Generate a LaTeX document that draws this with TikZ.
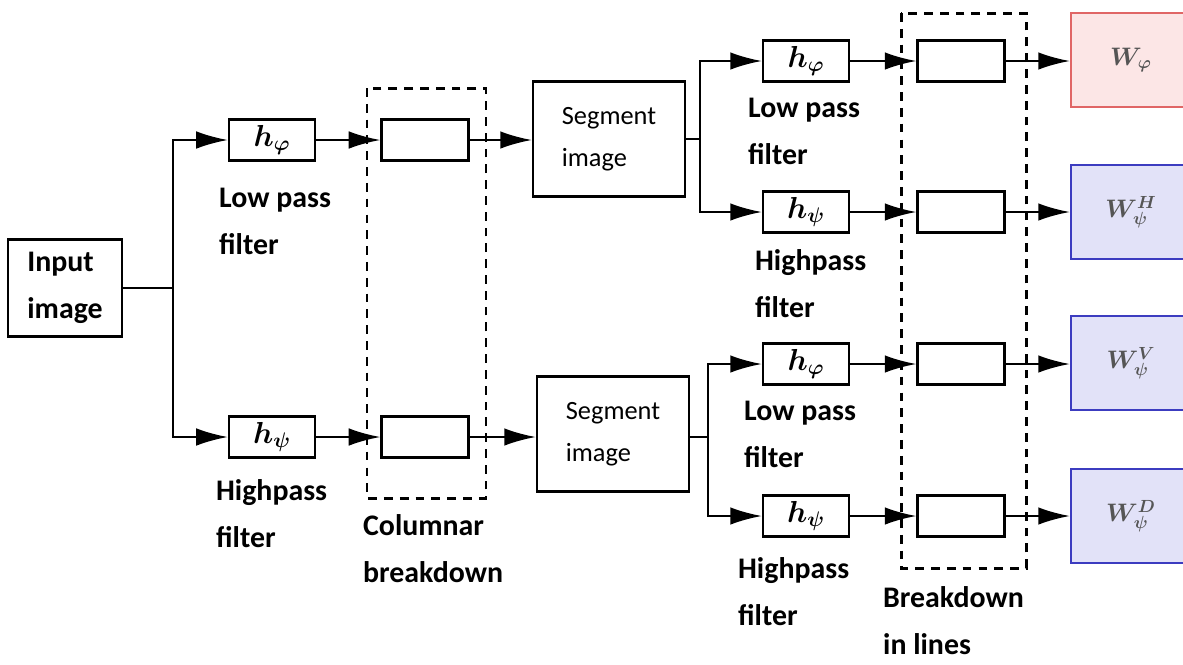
\documentclass[tikz,border=0pt]{standalone}
\usepackage{fontspec}
\setmainfont{Carlito}
\usepackage{amsmath,bm}
\usetikzlibrary{arrows.meta, positioning}
\definecolor{outred}{HTML}{E06666}
\definecolor{outredfill}{HTML}{FCE6E6}
\definecolor{outblue}{HTML}{3C3CC0}
\definecolor{outbluefill}{HTML}{E2E2F8}
\definecolor{wtext}{HTML}{555555}

\begin{document}
\begin{tikzpicture}[x=0.02cm, y=-0.02cm, line width=1.3pt,
    hf/.style={draw, rectangle, minimum width=1.72cm, minimum height=0.82cm, inner sep=0, font=\fontsize{17}{20}\selectfont},
    bk/.style={draw, rectangle, minimum width=1.74cm, minimum height=0.82cm, inner sep=0},
    sg/.style={draw, rectangle, minimum width=3.04cm, minimum height=2.3cm, inner sep=0, align=left, font=\fontsize{15}{24}\selectfont},
    lb/.style={anchor=north west, inner sep=0, align=left, font=\fontsize{17}{27}\selectfont\bfseries},
    ot/.style={draw, rectangle, minimum width=2.4cm, minimum height=1.88cm, inner sep=0, font=\fontsize{14}{16}\selectfont},
    bd/.style={line width=1.7pt, dash pattern=on 5pt off 4pt},
    >={Latex[length=18pt,width=10pt]}]
\useasboundingbox (0,0) rectangle (1183,664);
\clip (0,0) rectangle (1183,664);
% dashed groups
\draw[bd] (367,88) rectangle (486,498);
\draw[bd] (901,13) rectangle (1026,568);
% first stage
\node[draw, rectangle, minimum width=2.28cm, minimum height=1.94cm, inner sep=0, align=left, font=\fontsize{17}{27}\selectfont\bfseries] (in) at (65,288) {Input\\image};
\coordinate (j1) at (173,288);
\node[hf] (hp1) at (272,140) {$\bm{h_\varphi}$};
\node[hf] (hs1) at (272,437) {$\bm{h_\psi}$};
\node[bk] (cb1) at (425,140) {};
\node[bk] (cb2) at (425,437) {};
\node[sg] (sg1) at (609,139) {Segment\\image};
\node[sg] (sg2) at (613,434) {Segment\\image};
% second stage
\coordinate (j2) at (700,139);
\coordinate (j3) at (708,437);
\node[hf] (hp2) at (806,61) {$\bm{h_\varphi}$};
\node[hf] (hs2) at (806,212) {$\bm{h_\psi}$};
\node[hf] (hp3) at (806,364) {$\bm{h_\varphi}$};
\node[hf] (hs3) at (806,516) {$\bm{h_\psi}$};
\node[bk] (lb1) at (961,61) {};
\node[bk] (lb2) at (961,212) {};
\node[bk] (lb3) at (961,364) {};
\node[bk] (lb4) at (961,516) {};
% outputs
\node[ot, draw=outred, fill=outredfill] (out1) at (1131,60) {\textcolor{wtext}{$\bm{W_{\varphi}}$}};
\node[ot, draw=outblue, fill=outbluefill] (out2) at (1131,212) {\textcolor{wtext}{$\bm{W^{H}_{\psi}}$}};
\node[ot, draw=outblue, fill=outbluefill] (out3) at (1131,363) {\textcolor{wtext}{$\bm{W^{V}_{\psi}}$}};
\node[ot, draw=outblue, fill=outbluefill] (out4) at (1131,516) {\textcolor{wtext}{$\bm{W^{D}_{\psi}}$}};
% connectors
\draw (in) -- (j1);
\draw[->] (j1) |- (hp1);
\draw[->] (j1) |- (hs1);
\draw[->] (hp1) -- (cb1);
\draw[->] (hs1) -- (cb2);
\draw[->] (cb1) -- (cb1 -| sg1.west);
\draw[->] (cb2) -- (cb2 -| sg2.west);
\draw (sg1) -- (j2);
\draw (sg2.east |- j3) -- (j3);
\draw[->] (j2) |- (hp2);
\draw[->] (j2) |- (hs2);
\draw[->] (j3) |- (hp3);
\draw[->] (j3) |- (hs3);
\draw[->] (hp2) -- (lb1);
\draw[->] (hs2) -- (lb2);
\draw[->] (hp3) -- (lb3);
\draw[->] (hs3) -- (lb4);
\draw[->] (lb1) -- (out1.west |- lb1);
\draw[->] (lb2) -- (out2);
\draw[->] (lb3) -- (out3.west |- lb3);
\draw[->] (lb4) -- (out4);
% labels
\node[lb] (t1) at (218,187) {Low pass\\filter};
\node[lb] (t2) at (215,478) {Highpass\\filter};
\node[lb] (t3) at (362,513) {Columnar\\breakdown};
\node[lb] (t4) at (747,97) {Low pass\\filter};
\node[lb] (t5) at (754,248) {Highpass\\filter};
\node[lb] (t6) at (743,400) {Low pass\\filter};
\node[lb] (t7) at (737,556) {Highpass\\filter};
\node[lb] (t8) at (882,585) {Breakdown\\in lines};
\end{tikzpicture}
\end{document}
